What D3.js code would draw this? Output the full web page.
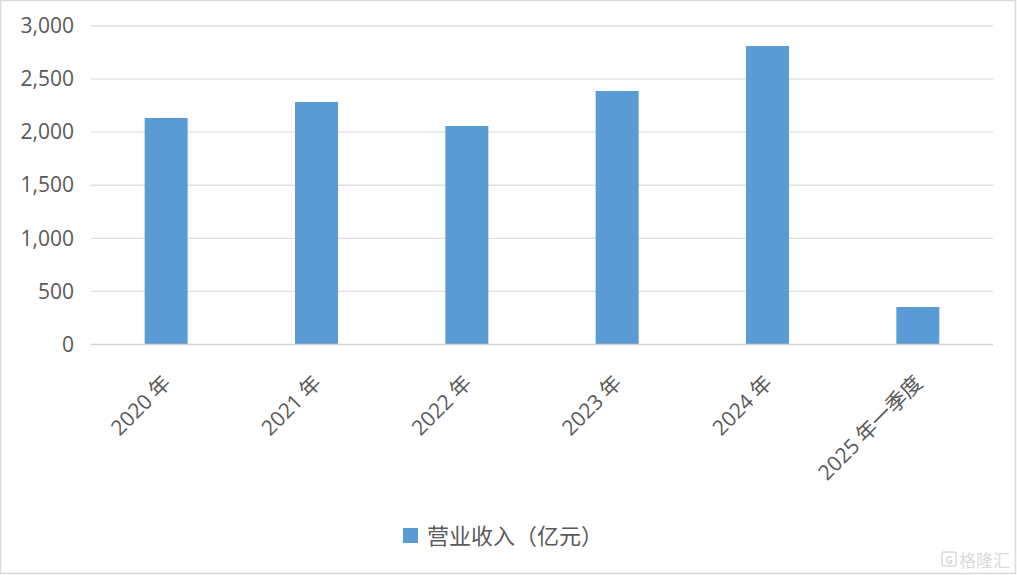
<!DOCTYPE html>
<html><head><meta charset="utf-8">
<script src="https://cdn.jsdelivr.net/npm/d3@7"></script>
<style>
body{margin:0;background:#fff;}
text{font-family:"Open Sans","Noto Sans CJK SC",sans-serif;}
</style></head>
<body><svg id="c" width="1017" height="575"></svg>
<script>
const categories = ["2020年","2021年","2022年","2023年","2024年","2025年一季度"];
const revenue = [2134, 2284, 2058, 2388, 2811, 353];
const yTicks = [0, 500, 1000, 1500, 2000, 2500, 3000];
const seriesName = "营业收入（亿元）";

(function(){
const svg = d3.select("#c");
const W = 1017, H = 575;
const pLeft = 91, pRight = 993, pTop = 26, pBottom = 344.5;
const textColor = "#595959";

svg.append("rect").attr("x",0.5).attr("y",0.5).attr("width",W-2).attr("height",H-2)
  .attr("fill","#fff").attr("stroke","#d9d9d9").attr("stroke-width",1.5);

const x = d3.scaleBand().domain(categories).range([pLeft,pRight]).paddingInner(0.714).paddingOuter(0.357);
const y = d3.scaleLinear().domain([0,3000]).range([pBottom,pTop]);

svg.append("g").selectAll("line").data(yTicks.filter(d=>d>0)).join("line")
  .attr("x1",pLeft).attr("x2",pRight).attr("y1",d=>y(d)).attr("y2",d=>y(d))
  .attr("stroke","#e0e0e0").attr("stroke-width",1.3);

const yAxis = d3.axisLeft(y).tickValues(yTicks).tickFormat(d3.format(",")).tickSize(0).tickPadding(17);
const yg = svg.append("g").attr("transform",`translate(${pLeft},0)`).call(yAxis);
yg.select(".domain").remove();
yg.selectAll("text").attr("fill",textColor).style("font-size","21px")
  .style("font-family",'"Open Sans","Noto Sans CJK SC",sans-serif');

svg.append("g").selectAll("rect").data(categories).join("rect")
  .attr("x",d=>x(d)).attr("width",x.bandwidth())
  .attr("y",(d,i)=>y(revenue[i])).attr("height",(d,i)=>y(0)-y(revenue[i]))
  .attr("fill","#5b9bd5");

const xAxis = d3.axisBottom(x).tickSize(0).tickPadding(0);
const xg = svg.append("g").attr("transform",`translate(0,${pBottom})`).call(xAxis);
xg.select(".domain").attr("d",`M${pLeft},0H${pRight}`).attr("stroke","#d4d4d4").attr("stroke-width",1.5);
xg.selectAll("text")
  .attr("fill",textColor).style("font-size","21px")
  .style("font-family",'"Open Sans","Noto Sans CJK SC",sans-serif')
  .attr("text-anchor","end").attr("dy",null).attr("y",null)
  .attr("transform","translate(6,40) rotate(-45)")
  .each(function(d){
    const m = d.match(/^(\d+)(.*)$/);
    const t = d3.select(this).text(null);
    t.append("tspan").text(m[1]);
    t.append("tspan").attr("dx",5).text(m[2]);
  });

const lg = svg.append("g");
lg.append("rect").attr("x",403).attr("y",528).attr("width",15).attr("height",15).attr("fill","#5b9bd5");
lg.append("text").attr("x",427).attr("y",544).attr("fill",textColor)
  .style("font-size","22px").text(seriesName);

const wm = svg.append("g").attr("opacity",0.55);
wm.append("rect").attr("x",942).attr("y",552).attr("width",14).attr("height",14).attr("rx",2)
  .attr("fill","none").attr("stroke","#bbb").attr("stroke-width",1.5);
wm.append("text").attr("x",945).attr("y",564).attr("fill","#bbb").style("font-size","11px").style("font-weight","bold").text("G");
wm.append("text").attr("x",959).attr("y",567).attr("fill","#bbb").style("font-size","17px").text("格隆汇");
})();
</script></body></html>
